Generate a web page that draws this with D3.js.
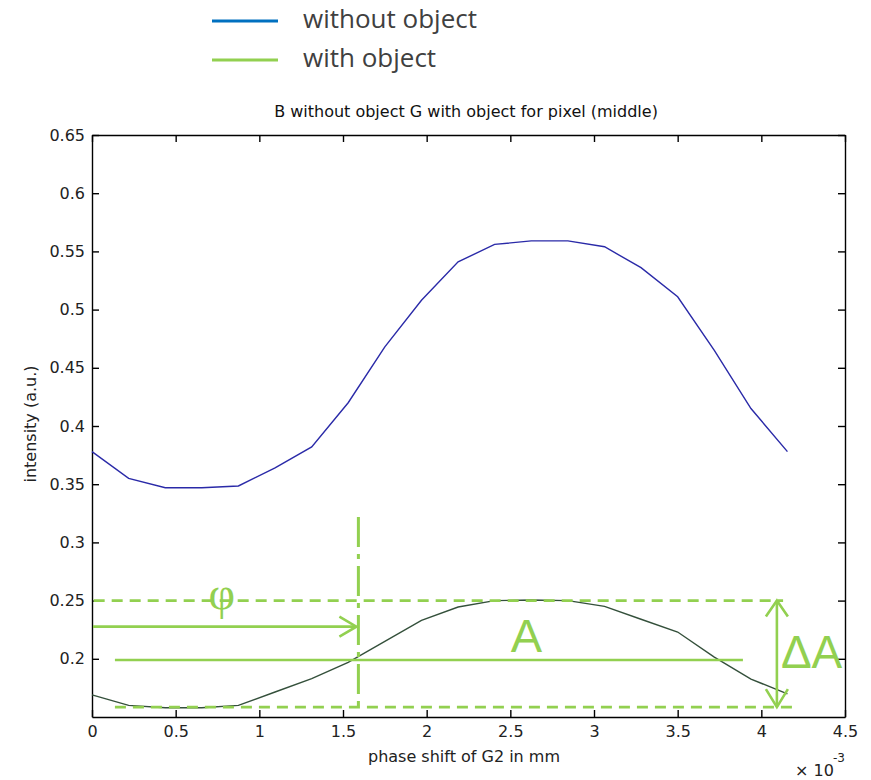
<!DOCTYPE html>
<html>
<head>
<meta charset="utf-8">
<script src="https://cdn.jsdelivr.net/npm/d3@7"></script>
<style>
  body { margin: 0; background: #fff; }
  svg { display: block; }
</style>
</head>
<body>
<svg id="chart" width="871" height="780"></svg>
<script>
// phase shift of G2 (x 10^-3 mm)
const phase = [0, 0.219, 0.438, 0.656, 0.875, 1.094, 1.313, 1.531, 1.75, 1.969,
               2.188, 2.406, 2.625, 2.844, 3.063, 3.281, 3.5, 3.719, 3.938, 4.156];
// intensity without object (blue)
const withoutObject = [0.378, 0.355, 0.347, 0.347, 0.3485, 0.364, 0.382, 0.420, 0.468, 0.508,
                       0.541, 0.556, 0.559, 0.559, 0.554, 0.536, 0.511, 0.465, 0.415, 0.378];
// intensity with object (green)
const withObject = [0.169, 0.160, 0.158, 0.158, 0.160, 0.1715, 0.183, 0.197, 0.215, 0.233,
                    0.2445, 0.250, 0.2505, 0.250, 0.245, 0.234, 0.223, 0.2015, 0.1826, 0.1698];

const xTicks = [0, 0.5, 1, 1.5, 2, 2.5, 3, 3.5, 4, 4.5];
const yTicks = [0.2, 0.25, 0.3, 0.35, 0.4, 0.45, 0.5, 0.55, 0.6, 0.65];

// annotation levels (data units)
const maxLevel = 0.25, minLevel = 0.1585, meanLevel = 0.199, phiArrowY = 0.2276;
const phaseAt = 1.592, deltaAt = 4.093;

const svg = d3.select("#chart");
const x = d3.scaleLinear().domain([0, 4.5]).range([92, 845]);
const y = d3.scaleLinear().domain([0.15, 0.65]).range([717, 135]);

const tickFont = "'DejaVu Sans', sans-serif";
const annoColor = "#92D050";

// legend
const legend = [
  {label: "without object", color: "#0070C0", ly: 21, ty: 28},
  {label: "with object", color: "#92D050", ly: 60, ty: 67}
];
legend.forEach(l => {
  svg.append("line").attr("x1", 212).attr("x2", 278).attr("y1", l.ly).attr("y2", l.ly)
    .attr("stroke", l.color).attr("stroke-width", 3);
  svg.append("text").attr("x", 303).attr("y", l.ty).text(l.label)
    .attr("font-family", "'Open Sans', sans-serif").attr("font-size", 26).attr("fill", "#404040");
});

// title
svg.append("text").attr("x", 466).attr("y", 117).attr("text-anchor", "middle")
  .attr("font-family", tickFont).attr("font-size", 16).attr("fill", "#111")
  .text("B without object G with object for pixel (middle)");

// axes (box, inward ticks)
const styleAxis = g => {
  g.select(".domain").attr("stroke", "#000").attr("stroke-width", 1.4);
  g.selectAll(".tick line").attr("stroke", "#000").attr("stroke-width", 1.4);
  g.selectAll(".tick text").attr("font-family", tickFont).attr("font-size", 16).attr("fill", "#222");
};
svg.append("g").attr("transform", "translate(0,717)")
  .call(d3.axisBottom(x).tickValues(xTicks).tickFormat(d => String(d)).tickSizeInner(-7).tickSizeOuter(0).tickPadding(9))
  .call(styleAxis);
svg.append("g").attr("transform", "translate(0,135)")
  .call(d3.axisTop(x).tickValues(xTicks).tickFormat("").tickSizeInner(-7).tickSizeOuter(0))
  .call(styleAxis);
svg.append("g").attr("transform", "translate(92,0)")
  .call(d3.axisLeft(y).tickValues(yTicks).tickFormat(d => String(d)).tickSizeInner(-7).tickSizeOuter(0).tickPadding(7))
  .call(styleAxis);
svg.append("g").attr("transform", "translate(845,0)")
  .call(d3.axisRight(y).tickValues(yTicks).tickFormat("").tickSizeInner(-7).tickSizeOuter(0))
  .call(styleAxis);

// axis labels
svg.append("text").attr("x", 464).attr("y", 762).attr("text-anchor", "middle")
  .attr("font-family", tickFont).attr("font-size", 16).attr("fill", "#222")
  .text("phase shift of G2 in mm");
svg.append("text").attr("transform", "translate(36,424) rotate(-90)").attr("text-anchor", "middle")
  .attr("font-family", tickFont).attr("font-size", 16).attr("fill", "#222")
  .text("intensity (a.u.)");
svg.append("text").attr("x", 795).attr("y", 776)
  .attr("font-family", tickFont).attr("font-size", 16).attr("fill", "#222").text("\u00d7 10");
svg.append("text").attr("x", 833).attr("y", 762)
  .attr("font-family", tickFont).attr("font-size", 12).attr("fill", "#222").text("-3");

// curves
const line = d3.line().x((d, i) => x(phase[i])).y(d => y(d));
svg.append("path").datum(withoutObject).attr("d", line)
  .attr("fill", "none").attr("stroke", "#2a2aa8").attr("stroke-width", 1.4);
svg.append("path").datum(withObject).attr("d", line)
  .attr("fill", "none").attr("stroke", "#34503b").attr("stroke-width", 1.4);

// annotations
const anno = svg.append("g").attr("stroke", annoColor).attr("fill", "none").attr("stroke-width", 2.6);
anno.append("line").attr("x1", x(0.01)).attr("x2", x(4.13)).attr("y1", y(maxLevel)).attr("y2", y(maxLevel))
  .attr("stroke-dasharray", "11,7");
anno.append("line").attr("x1", x(0.137)).attr("x2", x(4.214)).attr("y1", y(minLevel)).attr("y2", y(minLevel))
  .attr("stroke-dasharray", "11,7");
anno.append("line").attr("x1", x(phaseAt)).attr("x2", x(phaseAt)).attr("y1", y(0.3218)).attr("y2", y(0.1543))
  .attr("stroke-width", 3).attr("stroke-dasharray", "30,7,5,7");
anno.append("line").attr("x1", x(0.137)).attr("x2", x(3.89)).attr("y1", y(meanLevel)).attr("y2", y(meanLevel));

// phi arrow
const pa = [x(0.006), x(phaseAt) - 2, y(phiArrowY)];
anno.append("line").attr("x1", pa[0]).attr("x2", pa[1]).attr("y1", pa[2]).attr("y2", pa[2]);
anno.append("path").attr("d", `M${pa[1] - 17},${pa[2] - 10} L${pa[1]},${pa[2]} L${pa[1] - 17},${pa[2] + 10}`);

// delta A double arrow
const dx = x(deltaAt), dTop = y(maxLevel), dBot = y(minLevel);
anno.append("line").attr("x1", dx).attr("x2", dx).attr("y1", dTop).attr("y2", dBot);
anno.append("path").attr("d", `M${dx - 11},${dTop + 16} L${dx},${dTop} L${dx + 11},${dTop + 16}`);
anno.append("path").attr("d", `M${dx - 11},${dBot - 18} L${dx},${dBot} L${dx + 11},${dBot - 18}`);

const annoText = (tx, ty, s, size, fam) => svg.append("text").attr("x", tx).attr("y", ty).text(s)
  .attr("font-family", fam || "'Liberation Sans', Arial, sans-serif").attr("font-size", size).attr("fill", annoColor);
annoText(x(0.775), 609, "\u03c6", 46, "'Liberation Serif', serif").attr("text-anchor", "middle");
annoText(x(2.596), 652, "A", 47).attr("text-anchor", "middle");
annoText(dx + 4, 668, "\u0394A", 46);
</script>
</body>
</html>
